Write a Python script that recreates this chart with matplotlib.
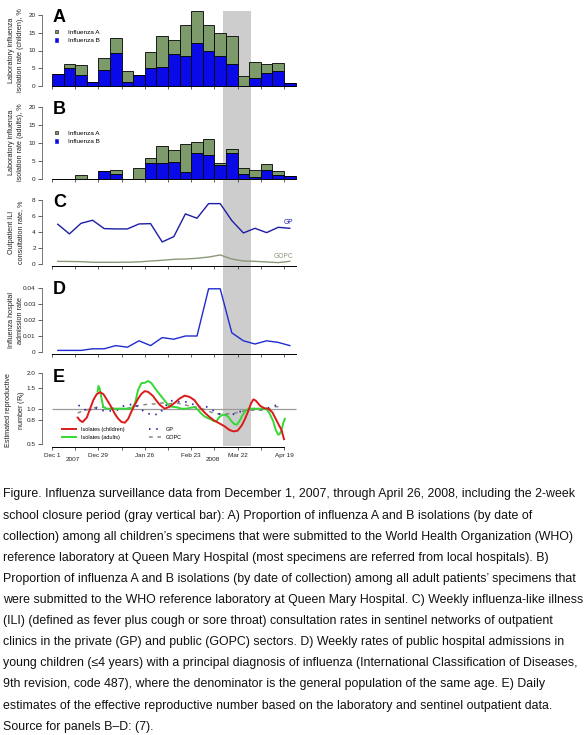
import matplotlib
matplotlib.use("Agg")
import matplotlib.pyplot as plt
import numpy as np
from matplotlib.patches import Patch, Rectangle
from matplotlib.lines import Line2D
import matplotlib.transforms as mtrans

plt.rcParams['font.family'] = ['Liberation Sans', 'DejaVu Sans']

# ---------------- data ----------------
week_start = [7 * i for i in range(21)]          # days since Dec 1, 2007
week_mid = [7 * i + 3.5 for i in range(21)]

childB = [3.4, 5.0, 3.0, 1.1, 4.4, 9.3, 1.1, 3.1, 5.1, 5.3, 9.0, 8.5, 12.1, 10.0, 8.4, 6.3, 0.0, 2.3, 3.6, 4.2, 0.9]
childA = [0.0, 1.1, 2.8, 0.0, 3.4, 4.1, 3.1, 0.0, 4.4, 8.7, 4.0, 8.6, 8.9, 7.1, 6.4, 7.7, 2.9, 4.6, 2.5, 2.2, 0.0]
adultB = [0.0, 0.0, 0.0, 0.0, 2.3, 1.5, 0.0, 0.0, 4.4, 4.4, 4.9, 1.9, 7.2, 6.8, 4.1, 7.4, 1.5, 0.6, 2.5, 1.3, 0.9]
adultA = [0.0, 0.0, 1.2, 0.0, 0.0, 1.0, 0.0, 3.1, 1.4, 4.8, 3.2, 7.8, 3.1, 4.3, 0.3, 0.9, 1.5, 1.9, 1.7, 1.1, 0.0]

ili_gp = [4.98, 3.78, 5.1, 5.48, 4.44, 4.4, 4.4, 5.02, 5.06, 2.78, 3.44, 6.27, 5.73, 7.55, 7.55, 5.44, 3.9, 4.48, 3.94, 4.6, 4.48]
ili_gopc = [0.37, 0.35, 0.33, 0.25, 0.25, 0.25, 0.26, 0.3, 0.41, 0.5, 0.62, 0.66, 0.75, 0.9, 1.16, 0.66, 0.41, 0.37, 0.29, 0.21, 0.37]

hosp = [0.001, 0.001, 0.001, 0.002, 0.002, 0.004, 0.003, 0.007, 0.004, 0.009, 0.008, 0.010, 0.010, 0.0395, 0.0395, 0.012, 0.007, 0.005, 0.007, 0.006, 0.004]

red_days = [15.5, 17, 18.5, 21, 23, 25, 27, 29, 31, 33, 36, 38, 40, 42, 44, 46, 48, 50, 52, 54,
            56, 58, 61, 63, 65, 68, 71, 74, 77, 80, 83, 86, 89, 92, 95, 98, 101, 104, 107, 109.5,
            112, 114.5, 116.5, 118.5, 120, 121.5, 123, 125.5, 128, 130.5, 133, 135, 137, 138.5, 140]
red_r = [0.84, 0.79, 0.77, 0.84, 1.0, 1.19, 1.33, 1.38, 1.33, 1.2, 1.02, 0.9, 0.82, 0.77, 0.76, 0.82, 0.95, 1.08, 1.22, 1.34,
         1.41, 1.39, 1.28, 1.17, 1.08, 1.0, 1.04, 1.12, 1.22, 1.29, 1.26, 1.18, 1.03, 0.93, 0.85, 0.79, 0.75, 0.71, 0.66, 0.64,
         0.65, 0.72, 0.82, 0.96, 1.1, 1.2, 1.17, 1.06, 1.01, 1.0, 0.93, 0.82, 0.72, 0.66, 0.55]

green_days = [27.5, 28, 29, 30, 31, 33, 36, 40, 44, 48, 50, 52, 54, 56, 58, 60, 62, 64, 66, 68,
              70, 72, 75, 78, 81, 84, 86, 88, 90, 92, 94, 96, 98, 99.5, 101, 103, 105, 106.5, 108, 110,
              111.5, 113, 115, 117, 119, 122, 126, 129.5, 131.5, 133.5, 135, 136.5, 137.5, 138.5, 139.5, 140.5]
green_r = [1.4, 1.56, 1.45, 1.2, 1.03, 1.0, 1.0, 1.0, 1.0, 1.0, 1.1, 1.45, 1.65, 1.66, 1.72, 1.65, 1.5, 1.38, 1.27, 1.17,
           1.08, 1.04, 1.03, 1.0, 1.0, 1.02, 1.03, 0.98, 0.91, 0.86, 0.83, 0.81, 0.78, 0.79, 0.85, 0.89, 0.88, 0.85, 0.79, 0.74,
           0.73, 0.78, 0.88, 0.97, 1.0, 1.0, 1.0, 0.99, 0.9, 0.78, 0.66, 0.6, 0.61, 0.66, 0.75, 0.82]

gp_days = [16, 19, 22, 25, 29, 32, 36, 40, 43, 46, 49, 53, 55, 58, 61, 65, 68, 71, 73, 77,
           81, 85, 89, 93, 97, 100, 103, 107, 110, 113, 117.5, 121.5, 125.5, 129.5, 132.5, 135.5, 138.5]
gp_r = [1.07, 1.0, 0.94, 1.04, 0.97, 0.96, 0.96, 0.98, 1.05, 1.07, 1.1, 1.02, 0.96, 0.91, 0.88, 0.91, 1.04, 1.14, 1.18, 1.14,
        1.14, 1.09, 1.04, 1.04, 0.97, 0.91, 0.88, 0.88, 0.9, 0.94, 0.97, 1.0, 0.99, 1.0, 1.04, 1.07, 1.04]

gopc_days = [15.5, 20, 24, 28, 33, 39, 45, 49, 53, 58, 63, 67, 71, 75, 81, 85, 89, 93, 98, 103,
             109.5, 113.5, 117.5, 121.5, 125.5, 129.5, 133.5, 138.5]
gopc_r = [0.92, 0.97, 1.0, 1.04, 1.02, 1.0, 1.0, 1.04, 1.07, 1.09, 1.1, 1.12, 1.1, 1.12, 1.07, 1.04, 1.02, 0.97, 0.91, 0.9,
          0.91, 0.94, 0.97, 0.97, 0.97, 0.97, 1.04, 1.04]

closure = (103, 120)  # Mar 13 - Mar 30, 2008 (days since Dec 1)

tick_days = list(range(0, 141, 14))
label_days = [0, 28, 56, 84, 112, 140]
date_labels = ["Dec 1", "Dec 29", "Jan 26", "Feb 23", "Mar 22", "Apr 19"]
e_yticks = [0.5, 0.8, 1.0, 1.5, 2.0]
e_ylabels = ["0.5", "0.8", "1.0", "1.5", "2.0"]

caption = [
    "Figure. Influenza surveillance data from December 1, 2007, through April 26, 2008, including the 2-week",
    "school closure period (gray vertical bar): A) Proportion of influenza A and B isolations (by date of",
    "collection) among all children\u2019s specimens that were submitted to the World Health Organization (WHO)",
    "reference laboratory at Queen Mary Hospital (most specimens are referred from local hospitals). B)",
    "Proportion of influenza A and B isolations (by date of collection) among all adult patients\u2019 specimens that",
    "were submitted to the WHO reference laboratory at Queen Mary Hospital. C) Weekly influenza-like illness",
    "(ILI) (defined as fever plus cough or sore throat) consultation rates in sentinel networks of outpatient",
    "clinics in the private (GP) and public (GOPC) sectors. D) Weekly rates of public hospital admissions in",
    "young children (\u22644 years) with a principal diagnosis of influenza (International Classification of Diseases,",
    "9th revision, code 487), where the denominator is the general population of the same age. E) Daily",
    "estimates of the effective reproductive number based on the laboratory and sentinel outpatient data.",
    "Source for panels B\u2013D: (7).",
]

# ---------------- style ----------------
W, H = 587, 735
BLUE = '#0a0ae8'
OLIVE = '#7d9a6b'
GRAY_BAND = '#cdcdcd'
LINE_BLUE = '#1c1ca8'
GOPC_COL = '#8a9878'
TICK_FS = 4.6

fig = plt.figure(figsize=(W / 100, H / 100), dpi=100)

XL, XR = 42, 300
PX_PER_DAY = 232 / 140.0
xlim = ((XL - 52) / PX_PER_DAY, (XR - 52) / PX_PER_DAY)


def add_ax(top, bottom):
    ax = fig.add_axes([XL / W, 1 - bottom / H, (XR - XL) / W, (bottom - top) / H])
    ax.set_facecolor('none')
    ax.set_zorder(1)
    ax.set_xlim(*xlim)
    for s in ['top', 'right']:
        ax.spines[s].set_visible(False)
    ax.spines['left'].set_linewidth(0.5)
    ax.spines['left'].set_color('#444444')
    ax.spines['bottom'].set_linewidth(0.7)
    ax.set_xticks(tick_days)
    ax.tick_params(axis='both', direction='out', length=3, width=0.5, labelsize=TICK_FS, pad=1.5, colors='#222222')
    ax.tick_params(axis='x', length=2.5)
    return ax


def ylab(text, yc):
    fig.text(16 / W, 1 - yc / H, text, rotation=90, ha='center', va='center', fontsize=5.2, linespacing=1.55,
             color='#222222')


def letter(ax, s, y_px):
    fig.text(53 / W, 1 - y_px / H, s, fontsize=13, fontweight='bold', ha='left', va='top')


# Panel A
axA = add_ax(86 - 21.2 * 3.55, 86)
axA.set_ylim(0, 21.2)
axA.bar(week_start, childB, width=7, align='edge', color=BLUE, edgecolor='black', linewidth=0.6)
axA.bar(week_start, childA, width=7, align='edge', bottom=childB, color=OLIVE, edgecolor='black', linewidth=0.6)
axA.set_yticks([0, 5, 10, 15, 20])
axA.spines['left'].set_bounds(0, 20)
axA.spines['bottom'].set_bounds(0, 147)
axA.set_xticklabels([])
ylab("Laboratory influenza\nisolation rate (children), %", 50)
letter(axA, "A", 9)

# Panel B
axB = add_ax(107.3, 179.3)
axB.set_ylim(0, 20)
axB.bar(week_start, adultB, width=7, align='edge', color=BLUE, edgecolor='black', linewidth=0.6)
axB.bar(week_start, adultA, width=7, align='edge', bottom=adultB, color=OLIVE, edgecolor='black', linewidth=0.6)
axB.set_yticks([0, 5, 10, 15, 20])
axB.spines['left'].set_bounds(0, 20)
axB.spines['bottom'].set_bounds(0, 147)
axB.set_xticklabels([])
ylab("Laboratory influenza\nisolation rate (adults), %", 142)
letter(axB, "B", 101)

handles = [Patch(facecolor=OLIVE, edgecolor='black', linewidth=0.4, label='Influenza A'),
           Patch(facecolor=BLUE, edgecolor=BLUE, linewidth=0.4, label='Influenza B')]
for ax, ytop in [(axA, 29.5), (axB, 130.5)]:
    ax.legend(handles=handles, loc='upper left', bbox_to_anchor=(54.5 / W, 1 - ytop / H),
              bbox_transform=fig.transFigure, frameon=False, fontsize=4.6, handlelength=0.55,
              handleheight=0.55, handletextpad=1.6, labelspacing=0.55, borderpad=0, borderaxespad=0)

# Panel C
axC = add_ax(200, 264.3 + 0.15 * 8.04)
axC.set_ylim(-0.15, 8)
axC.plot(week_mid, ili_gp, color=LINE_BLUE, lw=1.0)
axC.plot(week_mid, ili_gopc, color=GOPC_COL, lw=1.0)
axC.set_yticks([0, 2, 4, 6, 8])
axC.spines['left'].set_bounds(0, 8)
axC.spines['bottom'].set_bounds(0, 147)
axC.set_xticklabels([])
axC.text(145.5, 5.25, "GP", color=LINE_BLUE, fontsize=4.8, ha='right', va='center')
axC.text(145.5, 1.03, "GOPC", color=GOPC_COL, fontsize=4.8, ha='right', va='center')
ylab("Outpatient ILI\nconsultation rate, %", 232)
letter(axC, "C", 194)

# Panel D
axD = add_ax(288, 353.6)
axD.set_ylim(-0.001, 0.04)
axD.plot(week_mid, hosp, color='#1f2bd0', lw=1.0)
axD.set_yticks([0, 0.01, 0.02, 0.03, 0.04])
axD.set_yticklabels(["0", "0.01", "0.02", "0.03", "0.04"])
axD.spines['left'].set_bounds(0, 0.04)
axD.spines['bottom'].set_bounds(0, 147)
axD.set_xticklabels([])
ylab("Influenza hospital\nadmission rate", 320)
letter(axD, "D", 281)

# Panel E
axE = add_ax(373.3, 447.3)
axE.set_yscale('log')
axE.set_ylim(0.469, 2.0)
axE.hlines(1.0, 0, 147, color='#9a9a9a', lw=0.9, zorder=1)
axE.plot(gopc_days, gopc_r, color='#8a8a80', lw=1.1, linestyle=(0, (2.5, 3)), zorder=2)
axE.plot(gp_days, gp_r, color='#2020b0', lw=1.3, linestyle=(0, (0.8, 3.2)), zorder=2)
axE.plot(green_days, green_r, color='#35d835', lw=1.4, zorder=3)
axE.plot(red_days, red_r, color='#dd1a1a', lw=1.4, zorder=4)
axE.yaxis.set_major_locator(matplotlib.ticker.FixedLocator(e_yticks))
axE.yaxis.set_minor_locator(matplotlib.ticker.NullLocator())
axE.set_yticklabels(e_ylabels)
axE.spines['left'].set_bounds(0.5, 2.0)
axE.spines['bottom'].set_bounds(0, 140)
axE.set_xticks(tick_days)
axE.set_xticklabels([date_labels[label_days.index(d)] if d in label_days else "" for d in tick_days])
axE.tick_params(axis='x', pad=1.5)
blend = mtrans.blended_transform_factory(axE.transData, fig.transFigure)
axE.text(12.4, 1 - 459.5 / H, "2007", transform=blend, fontsize=TICK_FS, ha='center', va='center', color='#222222')
axE.text(97, 1 - 459.5 / H, "2008", transform=blend, fontsize=TICK_FS, ha='center', va='center', color='#222222')
ylab("Estimated reproductive\nnumber ($\\mathregular{R_t}$)", 410)
letter(axE, "E", 369)

leg1 = axE.legend(handles=[Line2D([], [], color='#dd1a1a', lw=1.4, label='Isolates (children)'),
                           Line2D([], [], color='#35d835', lw=1.4, label='Isolates (adults)')],
                  loc='upper left', bbox_to_anchor=(62 / W, 1 - 427 / H), bbox_transform=fig.transFigure,
                  frameon=False, fontsize=4.0, handlelength=2.6, handletextpad=0.8, labelspacing=0.45,
                  borderpad=0, borderaxespad=0)
axE.add_artist(leg1)
axE.legend(handles=[Line2D([], [], color='#2020b0', lw=1.3, linestyle=(0, (0.8, 3.2)), label='GP'),
                    Line2D([], [], color='#8a8a80', lw=1.1, linestyle=(0, (2.5, 3)), label='GOPC')],
           loc='upper left', bbox_to_anchor=(149 / W, 1 - 427 / H), bbox_transform=fig.transFigure,
           frameon=False, fontsize=4.0, handlelength=2.2, handletextpad=0.8, labelspacing=0.45,
           borderpad=0, borderaxespad=0)

# closure band spanning all panels
bt = mtrans.blended_transform_factory(axA.transData, fig.transFigure)
band = Rectangle((closure[0], 1 - 446 / H), closure[1] - closure[0], (446 - 11) / H,
                 transform=bt, facecolor=GRAY_BAND, edgecolor='none', zorder=0)
fig.add_artist(band)
band.set_zorder(0)

# caption
fig.canvas.draw()
renderer = fig.canvas.get_renderer()
probe = fig.text(0, 0, caption[0], fontsize=8)
w = probe.get_window_extent(renderer).width
probe.remove()
cap_fs = 8 * 576.0 / w
for k, line in enumerate(caption):
    fig.text(3 / W, 1 - (494.5 + 21.1 * k) / H, line, fontsize=cap_fs, ha='left', va='center', color='#111111')

fig.savefig("out.png", dpi=100)
